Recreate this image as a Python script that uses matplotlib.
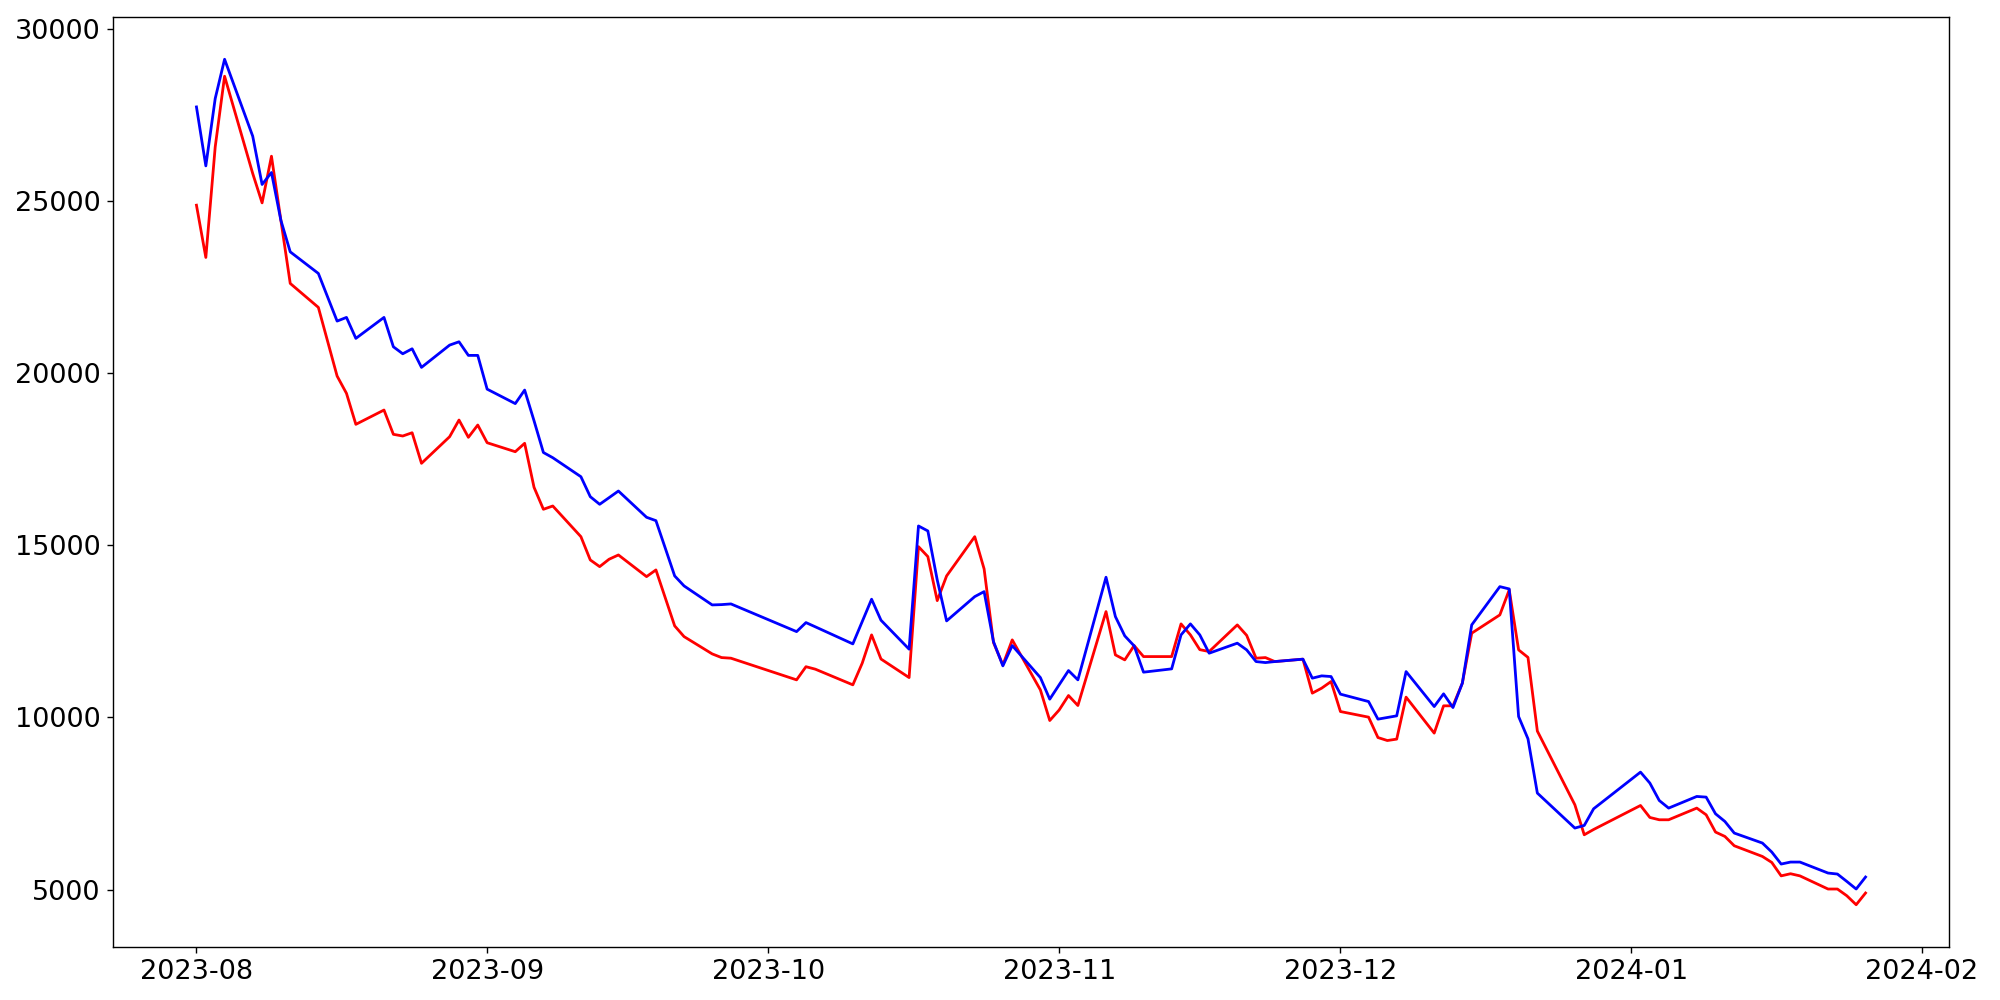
import pandas as pd
import matplotlib
matplotlib.use('Agg')
import matplotlib.pyplot as plt

OUTPUT_FILE = 'out.png'

DATES = [
    '2023-08-01', '2023-08-02', '2023-08-03', '2023-08-04', '2023-08-07', '2023-08-08',
    '2023-08-09', '2023-08-10', '2023-08-11', '2023-08-14', '2023-08-16', '2023-08-17',
    '2023-08-18', '2023-08-21', '2023-08-22', '2023-08-23', '2023-08-24', '2023-08-25',
    '2023-08-28', '2023-08-29', '2023-08-30', '2023-08-31', '2023-09-01', '2023-09-04',
    '2023-09-05', '2023-09-06', '2023-09-07', '2023-09-08', '2023-09-11', '2023-09-12',
    '2023-09-13', '2023-09-14', '2023-09-15', '2023-09-18', '2023-09-19', '2023-09-20',
    '2023-09-21', '2023-09-22', '2023-09-25', '2023-09-26', '2023-09-27', '2023-10-04',
    '2023-10-05', '2023-10-06', '2023-10-10', '2023-10-11', '2023-10-12', '2023-10-13',
    '2023-10-16', '2023-10-17', '2023-10-18', '2023-10-19', '2023-10-20', '2023-10-23',
    '2023-10-24', '2023-10-25', '2023-10-26', '2023-10-27', '2023-10-30', '2023-10-31',
    '2023-11-01', '2023-11-02', '2023-11-03', '2023-11-06', '2023-11-07', '2023-11-08',
    '2023-11-09', '2023-11-10', '2023-11-13', '2023-11-14', '2023-11-15', '2023-11-16',
    '2023-11-17', '2023-11-20', '2023-11-21', '2023-11-22', '2023-11-23', '2023-11-24',
    '2023-11-27', '2023-11-28', '2023-11-29', '2023-11-30', '2023-12-01', '2023-12-04',
    '2023-12-05', '2023-12-06', '2023-12-07', '2023-12-08', '2023-12-11', '2023-12-12',
    '2023-12-13', '2023-12-14', '2023-12-15', '2023-12-18', '2023-12-19', '2023-12-20',
    '2023-12-21', '2023-12-22', '2023-12-26', '2023-12-27', '2023-12-28', '2024-01-02',
    '2024-01-03', '2024-01-04', '2024-01-05', '2024-01-08', '2024-01-09', '2024-01-10',
    '2024-01-11', '2024-01-12', '2024-01-15', '2024-01-16', '2024-01-17', '2024-01-18',
    '2024-01-19', '2024-01-22', '2024-01-23', '2024-01-24', '2024-01-25', '2024-01-26',
]

BLUE_VALUES = [
    27725, 26013, 27969, 29109, 26875, 25473,
    25821, 24437, 23517, 22890, 21506, 21613,
    21004, 21613, 20760, 20557, 20702, 20162,
    20809, 20905, 20510, 20510, 19530, 19110,
    19503, 18613, 17690, 17539, 16987, 16407,
    16186, 16378, 16572, 15809, 15711, 14910,
    14106, 13816, 13264, 13273, 13293, 12489,
    12751, 12628, 12132, 12780, 13430, 12820,
    11979, 15557, 15412, 13990, 12800, 13505,
    13650, 12199, 11494, 12083, 11154, 10527,
    10943, 11358, 11088, 14068, 12925, 12365,
    12074, 11311, 11407, 12394, 12713, 12394,
    11862, 12153, 11958, 11619, 11590, 11619,
    11689, 11137, 11204, 11184, 10673, 10458,
    9947, 9995, 10043, 11328, 10313, 10682,
    10284, 10992, 12684, 13795, 13728, 10023,
    9376, 7800, 6784, 6860, 7344, 8409,
    8090, 7585, 7364, 7702, 7683, 7199,
    6976, 6639, 6349, 6088, 5739, 5797,
    5797, 5478, 5449, 5235, 5014, 5362,
]

RED_VALUES = [
    24872, 23354, 26564, 28616, 25792, 24939,
    26294, 24440, 22600, 21904, 19910, 19407,
    18508, 18923, 18218, 18169, 18264, 17376,
    18149, 18633, 18131, 18488, 17974, 17713,
    17957, 16680, 16041, 16137, 15246, 14570,
    14376, 14590, 14715, 14086, 14280, 13467,
    12655, 12344, 11842, 11735, 11717, 11088,
    11470, 11398, 10943, 11572, 12394, 11693,
    11154, 14956, 14667, 13389, 14106, 15246,
    14309, 12170, 11523, 12249, 10797, 9907,
    10212, 10633, 10343, 13070, 11813, 11668,
    12083, 11764, 11764, 12713, 12394, 11965,
    11910, 12684, 12380, 11717, 11735, 11619,
    11689, 10702, 10847, 11039, 10168, 10005,
    9413, 9326, 9367, 10586, 9541, 10334,
    10334, 10992, 12443, 12974, 13700, 11958,
    11740, 9600, 7460, 6589, 6743, 7440,
    7092, 7025, 7025, 7364, 7170, 6668,
    6541, 6270, 5960, 5786, 5396, 5458,
    5396, 5014, 5014, 4819, 4558, 4898,
]


def plot_lines():
    dates = pd.to_datetime(DATES)

    fig, ax = plt.subplots(figsize=(16, 8), dpi=125)
    fig.subplots_adjust(left=0.0565, right=0.9745, bottom=0.053, top=0.983)

    ax.plot(dates, RED_VALUES, color='red', linewidth=1.6)
    ax.plot(dates, BLUE_VALUES, color='blue', linewidth=1.6)

    ax.tick_params(axis='both', labelsize=15.6)

    fig.savefig(OUTPUT_FILE, dpi=125)
    print(f"Graph saved to {OUTPUT_FILE}")


if __name__ == "__main__":
    plot_lines()
